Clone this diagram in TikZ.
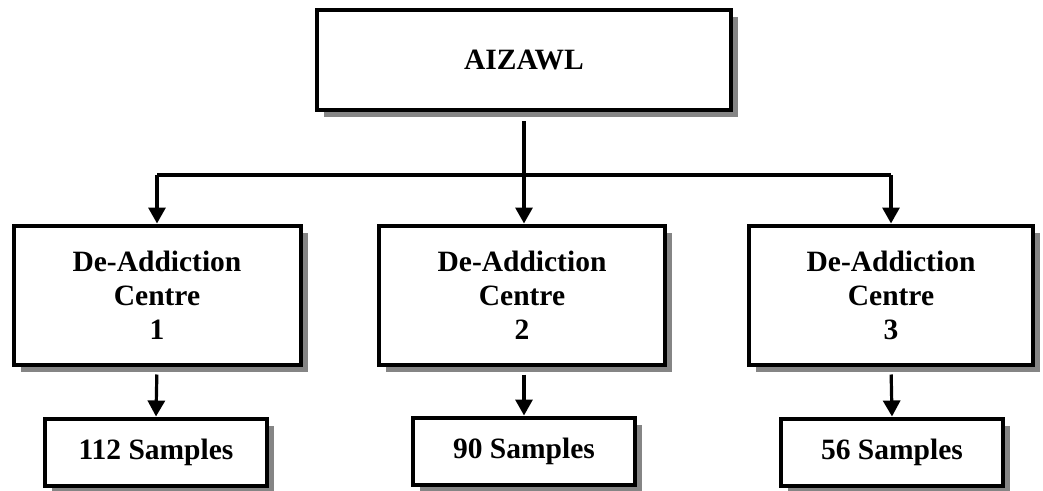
\documentclass[tikz,border=0pt]{standalone}
\usepackage{fontspec}
\setmainfont{Liberation Serif}
\usetikzlibrary{arrows.meta,shadows}
\begin{document}
\begin{tikzpicture}[x=1pt,y=-1pt,
  shadowbox/.style={draw=black, fill=white, line width=4pt, align=center,
    inner sep=0pt,
    font=\fontsize{29.5}{34}\selectfont\bfseries,
    drop shadow={shadow xshift=7pt, shadow yshift=-7pt, fill=black!48, opacity=1}},
  conn/.style={line width=3.2pt},
  arrow/.style={conn, -{Triangle[length=16pt,width=17pt]}}]
  \useasboundingbox (0,0) rectangle (1043,490);

  % head office
  \node[shadowbox, line width=4.5pt, minimum width=414pt, minimum height=100pt] (top) at (524,60) {AIZAWL};

  % de-addiction centres
  \node[shadowbox, minimum width=287pt, minimum height=139pt] (c1) at (157,295) {De-Addiction\\Centre\\1};
  \node[shadowbox, minimum width=286pt, minimum height=139pt] (c2) at (522,295) {De-Addiction\\Centre\\2};
  \node[shadowbox, minimum width=284pt, minimum height=139pt] (c3) at (891,295) {De-Addiction\\Centre\\3};

  % sample counts
  \node[shadowbox, minimum width=222pt, minimum height=67pt] (s1) at (156,452) {112 Samples};
  \node[shadowbox, minimum width=222pt, minimum height=67pt] (s2) at (524,451) {90 Samples};
  \node[shadowbox, minimum width=222pt, minimum height=67pt] (s3) at (892,452) {56 Samples};

  % branching connectors
  \coordinate (hub) at (524,175);
  \draw[conn, shorten <=9pt] (top.south) -- (hub);
  \draw[conn] (c1.north |- hub) -- (c3.north |- hub);
  \draw[arrow] (hub) -- (c2.north -| hub);
  \draw[arrow] (c1.north |- hub) -- (c1.north);
  \draw[arrow] (c3.north |- hub) -- (c3.north);

  \draw[arrow, shorten <=8pt] (c1.south) -- (s1.north);
  \draw[arrow, shorten <=8pt] (c2.south -| s2.north) -- (s2.north);
  \draw[arrow, shorten <=8pt] (c3.south) -- (s3.north);
\end{tikzpicture}
\end{document}
